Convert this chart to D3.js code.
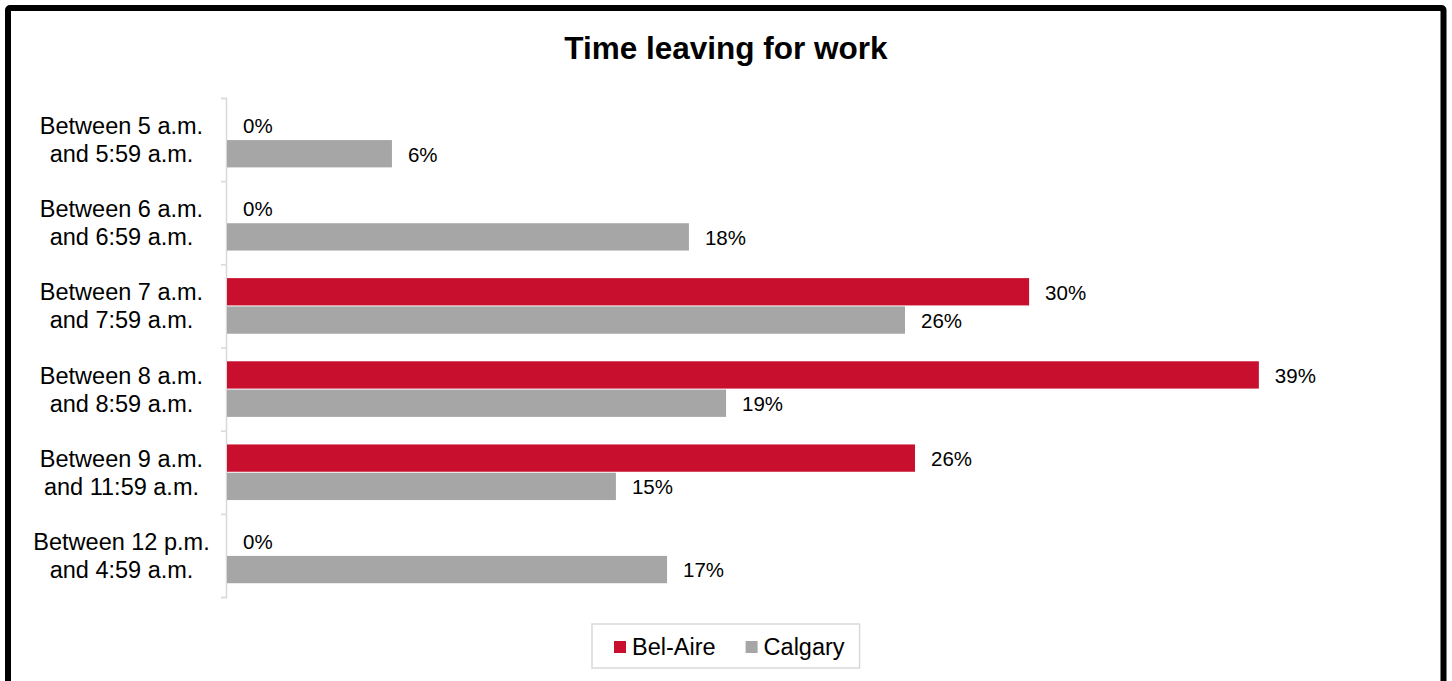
<!DOCTYPE html>
<html>
<head>
<meta charset="utf-8">
<script src="https://cdn.jsdelivr.net/npm/d3@7"></script>
<style>
  body { margin: 0; background: #fff; }
  svg { display: block; font-family: Arial, "Liberation Sans", sans-serif; }
</style>
</head>
<body>
<svg id="chart" width="1452" height="681"></svg>
<script>
// categories (two lines each) and series, in percent
const categories = [
  ["Between 5 a.m.", "and 5:59 a.m."],
  ["Between 6 a.m.", "and 6:59 a.m."],
  ["Between 7 a.m.", "and 7:59 a.m."],
  ["Between 8 a.m.", "and 8:59 a.m."],
  ["Between 9 a.m.", "and 11:59 a.m."],
  ["Between 12 p.m.", "and 4:59 a.m."],
];
const seriesNames = ["Bel-Aire", "Calgary"];
const belAire = [0, 0, 30.44, 39.16, 26.11, 0];
const calgary = [6.26, 17.53, 25.73, 18.94, 14.76, 16.70];
const colors = ["#c8102e", "#a6a6a6"];

const svg = d3.select('#chart');

// outer frame
svg.append('rect')
  .attr('x', 8).attr('y', 8)
  .attr('width', 1435.5).attr('height', 700)
  .attr('rx', 2)
  .attr('fill', 'none')
  .attr('stroke', '#000')
  .attr('stroke-width', 6);

svg.append('text')
  .attr('x', 726).attr('y', 59)
  .attr('text-anchor', 'middle')
  .attr('font-weight', 'bold')
  .attr('font-size', 31.5)
  .text('Time leaving for work');

const keys = categories.map((d, i) => i);
const y = d3.scaleBand().domain(keys).range([98, 597]).padding(0);
const yInner = d3.scaleBand().domain(seriesNames).range([0, y.bandwidth()])
  .paddingInner(0.035).paddingOuter(0.487);
const x = d3.scaleLinear().domain([0, 45]).range([227, 227 + 45 * 26.35]);

// axis with ticks on the category boundaries
const yEdges = d3.scaleLinear().domain([0, categories.length]).range([98, 597]);
const gAxis = svg.append('g')
  .attr('transform', 'translate(226,0)')
  .call(d3.axisLeft(yEdges).ticks(categories.length).tickSize(5).tickSizeOuter(5).tickFormat(''));
gAxis.selectAll('path, line').attr('stroke', '#d9d9d9').attr('stroke-width', 1.5);

// category labels
const catLabels = svg.append('g').selectAll('text')
  .data(categories)
  .join('text')
  .attr('x', 121.5)
  .attr('y', (d, i) => y(i) + y.bandwidth() / 2 - 5.5)
  .attr('text-anchor', 'middle')
  .attr('font-size', 23.5)
  .attr('fill', '#000');
catLabels.selectAll('tspan')
  .data(d => d)
  .join('tspan')
  .attr('x', 121.5)
  .attr('dy', (d, j) => j === 0 ? 0 : 28)
  .text(d => d);

const rows = keys.map(i => seriesNames.map((s, k) => ({
  cat: i, series: s, color: colors[k], value: k === 0 ? belAire[i] : calgary[i],
}))).flat();

svg.append('g').selectAll('rect')
  .data(rows)
  .join('rect')
  .attr('x', x(0))
  .attr('y', d => y(d.cat) + yInner(d.series))
  .attr('width', d => x(d.value) - x(0))
  .attr('height', yInner.bandwidth())
  .attr('fill', d => d.color);

svg.append('g').selectAll('text')
  .data(rows)
  .join('text')
  .attr('x', d => x(d.value) + 16)
  .attr('y', d => y(d.cat) + yInner(d.series) + yInner.bandwidth() / 2)
  .attr('dy', '0.38em')
  .attr('font-size', 20.5)
  .attr('fill', '#000')
  .text(d => Math.round(d.value) + '%');

// legend
const legend = svg.append('g');
const legendBox = legend.append('rect')
  .attr('fill', '#fff')
  .attr('stroke', '#d9d9d9')
  .attr('stroke-width', 1.5);
let lx = 614;
seriesNames.forEach((s, k) => {
  legend.append('rect')
    .attr('x', lx).attr('y', 641)
    .attr('width', 12).attr('height', 12)
    .attr('fill', colors[k]);
  const t = legend.append('text')
    .attr('x', lx + 18).attr('y', 655)
    .attr('font-size', 23.5)
    .text(s);
  lx += 18 + t.node().getComputedTextLength() + 30;
});
legendBox
  .attr('x', 592).attr('y', 624)
  .attr('width', lx - 30 + 15 - 592).attr('height', 44);
</script>
</body>
</html>
